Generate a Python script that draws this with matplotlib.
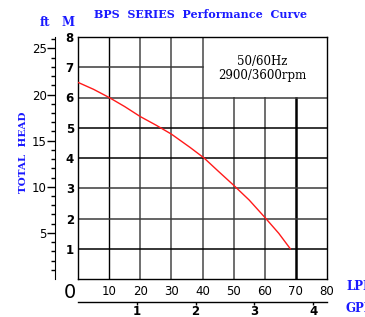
import matplotlib.pyplot as plt
import numpy as np

# pump curve (LPM vs metres of head)
flow_lpm = [0, 5, 10, 15, 20, 25, 30, 36, 40.5, 45, 50, 55, 60, 64.5, 68.2]
head_m = [6.5, 6.27, 6.0, 5.70, 5.37, 5.09, 4.79, 4.35, 4.0, 3.57, 3.1,
          2.61, 2.04, 1.51, 1.0]

lpm_ticks = [10, 20, 30, 40, 50, 60, 70, 80]
m_ticks = [1, 2, 3, 4, 5, 6, 7, 8]
gpm_ticks = [1, 2, 3, 4]
ft_major = [5, 10, 15, 20, 25]
lpm_per_gpm = 18.9
ft_per_m = 3.28084

blue = '#1a1aff'
W, H = 365, 317
fig = plt.figure(figsize=(W / 100, H / 100), dpi=100)

x0, x1, y0, y1 = 78, 327, 37, 279
ax = fig.add_axes([x0 / W, 1 - y1 / H, (x1 - x0) / W, (y1 - y0) / H])
ax.set_xlim(0, 80)
ax.set_ylim(0, 8)

# grid lines
for x in [10, 20, 30, 40, 50, 60, 70]:
    top = 8 if x <= 40 else 6
    if x == 10:
        c, lw = 'black', 1.0
    elif x == 70:
        c, lw = 'black', 1.8
    else:
        c, lw = '#6e6e6e', 1.4
    ax.plot([x, x], [0, top], color=c, lw=lw, zorder=1)
for y in [1, 2, 3, 4, 5, 6, 7]:
    right = 40 if y == 7 else 80
    c = 'black' if y in (1, 4, 5) else '#3a3a3a'
    ax.plot([0, right], [y, y], color=c, lw=1.1, zorder=1)

ax.plot(flow_lpm, head_m, color='#ff1a1a', lw=1.0, zorder=3)

ax.text(59.2, 7.2, '50/60Hz', ha='center', va='center',
        family='DejaVu Serif', fontsize=8.5)
ax.text(59.2, 6.74, '2900/3600rpm', ha='center', va='center',
        family='DejaVu Serif', fontsize=8.5)

for s in ax.spines.values():
    s.set_linewidth(1.0)
ax.set_xticks(lpm_ticks)
ax.set_yticks(m_ticks)
ax.tick_params(length=0, labelsize=8.5, pad=4)
ax.tick_params(axis='y', pad=3)
for lab in ax.get_yticklabels():
    lab.set_fontweight('bold')

# GPM axis below
sec = ax.secondary_xaxis(-(302 - y1) / (y1 - y0),
                         functions=(lambda x: x / lpm_per_gpm,
                                    lambda g: g * lpm_per_gpm))
sec.set_xticks(gpm_ticks)
sec.tick_params(direction='out', length=2.5, width=1, labelsize=8.5, pad=0)
for lab in sec.get_xticklabels():
    lab.set_fontweight('bold')
sec.spines['bottom'].set_linewidth(1.0)

# feet axis on the left
axf = fig.add_axes([55 / W, 1 - y1 / H, 0.001, (y1 - y0) / H])
axf.set_ylim(0, 8 * ft_per_m)
for k in ['top', 'right', 'bottom']:
    axf.spines[k].set_visible(False)
axf.set_xticks([])
axf.set_yticks(ft_major)
axf.set_yticks(np.arange(1, 27), minor=True)
axf.tick_params(axis='y', which='major', length=6, width=1, labelsize=8.5, pad=0)
axf.tick_params(axis='y', which='minor', length=3, width=1)

fig.text(201 / W, 1 - 14 / H, 'BPS  SERIES  Performance  Curve', color=blue,
         ha='center', va='center', family='DejaVu Serif', fontweight='bold',
         fontsize=8)
fig.text(45 / W, 1 - 23 / H, 'ft', color=blue, ha='center', va='center',
         family='DejaVu Serif', fontweight='bold', fontsize=8.5)
fig.text(68 / W, 1 - 23 / H, 'M', color=blue, ha='center', va='center',
         family='DejaVu Serif', fontweight='bold', fontsize=8.5)
fig.text(24 / W, 1 - 152 / H, 'TOTAL  HEAD', color=blue, rotation=90,
         ha='center', va='center', family='DejaVu Serif', fontweight='bold',
         fontsize=7.5)
fig.text(70 / W, 1 - 292 / H, '0', ha='center', va='center', fontsize=14)
fig.text(346 / W, 1 - 287 / H, 'LPM', color=blue, ha='left', va='center',
         family='DejaVu Serif', fontweight='bold', fontsize=8.5)
fig.text(346 / W, 1 - 309 / H, 'GPM', color=blue, ha='left', va='center',
         family='DejaVu Serif', fontweight='bold', fontsize=8.5)

fig.savefig('out.png', dpi=100)
